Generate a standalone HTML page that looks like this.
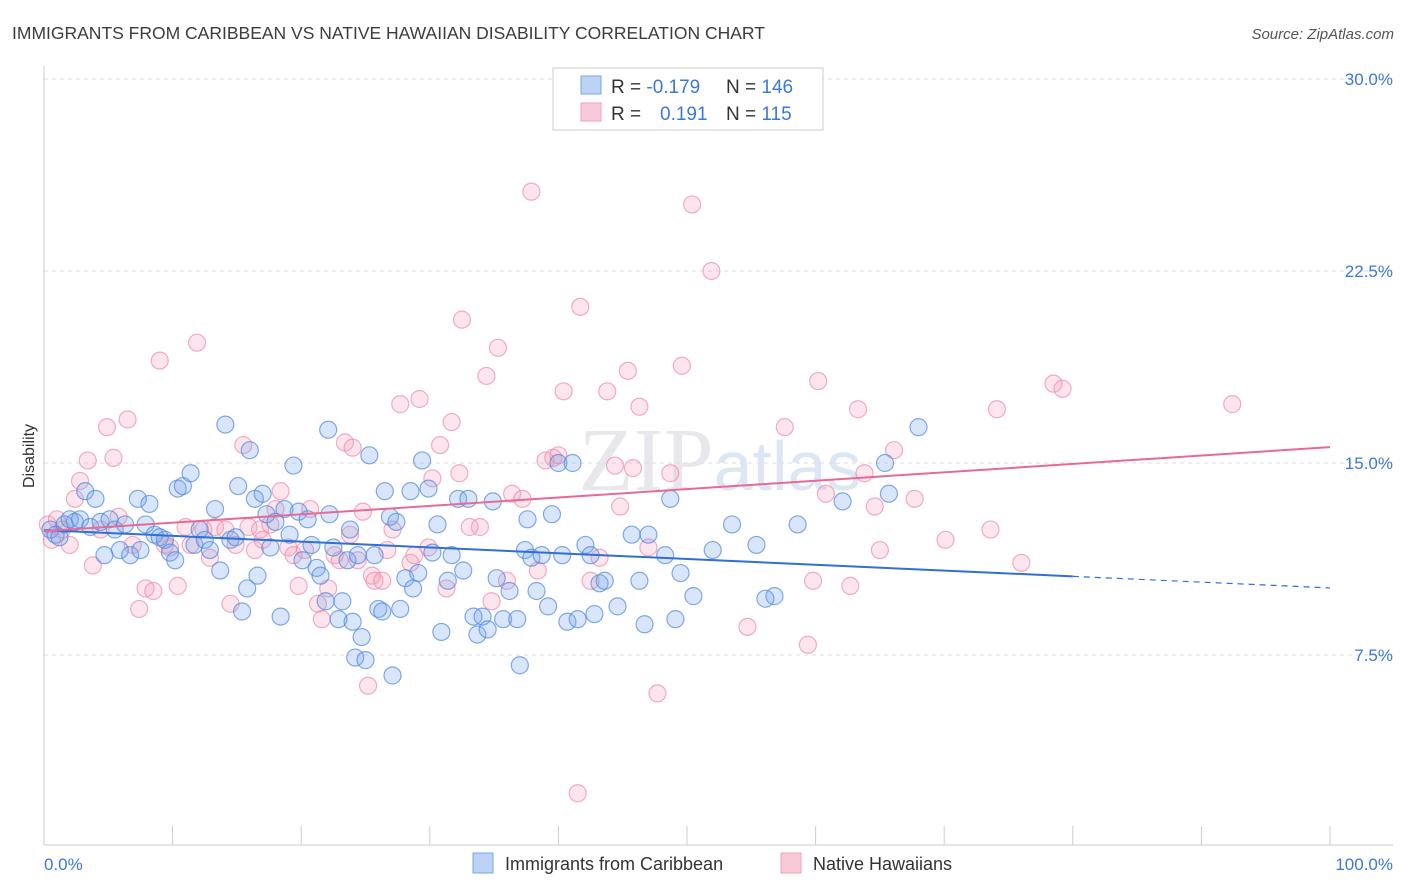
<!DOCTYPE html>
<html><head><meta charset="utf-8">
<style>
body{margin:0;background:#fff;font-family:"Liberation Sans",sans-serif;}
#wrap{position:relative;width:1406px;height:892px;overflow:hidden;}
</style></head>
<body>
<div id="wrap">
<svg id="chart" width="1406" height="892" xmlns="http://www.w3.org/2000/svg">
<text x="12" y="39" font-size="17.5" fill="#3c3c3c">IMMIGRANTS FROM CARIBBEAN VS NATIVE HAWAIIAN DISABILITY CORRELATION CHART</text>
<text x="1394" y="39" font-size="15" fill="#555" font-style="italic" text-anchor="end">Source: ZipAtlas.com</text>
<text x="720" y="490" font-size="90" fill="#e8e8ec" text-anchor="middle" font-family="Liberation Serif,serif">ZIP<tspan fill="#dde6f3" font-family="Liberation Sans,sans-serif" font-size="70">atlas</tspan></text>
<text transform="translate(34,456) rotate(-90)" font-size="16" fill="#333" text-anchor="middle">Disability</text>
<g id="grid"></g><g id="xticks"></g><g id="pts"></g><g id="trends"></g>
<g>
<rect x="553" y="68" width="270" height="62" fill="#fff" stroke="#ccc"/>
<rect x="581" y="76" width="20" height="18" fill="#bcd3f5" stroke="#7aa6e6"/>
<rect x="581" y="103" width="20" height="18" fill="#f9c9d8" stroke="#eea2ba"/>
<text x="611" y="93" font-size="19" fill="#333">R = <tspan fill="#3b78d8">-0.179</tspan>   <tspan x="726">N = </tspan><tspan fill="#3b78d8">146</tspan></text>
<text x="611" y="120" font-size="19" fill="#333">R = <tspan x="660" fill="#3b78d8">0.191</tspan><tspan x="726">N = </tspan><tspan fill="#3b78d8">115</tspan></text>
</g>
<g>
<rect x="473" y="853" width="20" height="20" fill="#bcd3f5" stroke="#7aa6e6"/>
<text x="505" y="870" font-size="18" fill="#333">Immigrants from Caribbean</text>
<rect x="781" y="853" width="20" height="20" fill="#f9c9d8" stroke="#eea2ba"/>
<text x="813" y="870" font-size="18" fill="#333">Native Hawaiians</text>
</g>
<text x="44" y="870" font-size="17" fill="#3b78d8">0.0%</text>
<text x="1393" y="870" font-size="17" fill="#3b78d8" text-anchor="end">100.0%</text>
</svg>
</div>
<script>
const yTicks=[7.5,15,22.5,30];
const yTickLabels=["7.5%","15.0%","22.5%","30.0%"];
const xTickVals=[0,10,20,30,40,50,60,70,80,90,100];
const blueX=[0.5,0.9,1.2,1.6,2.0,2.4,2.8,3.2,3.6,4.0,4.4,4.7,5.1,5.5,5.9,6.3,6.7,7.3,7.5,7.9,8.2,8.6,9.0,9.4,9.8,10.2,10.4,10.8,11.4,11.7,12.1,12.5,12.9,13.3,13.7,14.1,14.5,14.9,15.1,15.4,15.8,16.0,16.4,16.6,17.0,17.3,17.6,18.0,18.4,18.7,19.1,19.4,19.8,20.1,20.5,20.8,21.2,21.5,21.9,22.1,22.2,22.5,22.9,23.2,23.6,23.8,24.0,24.2,24.4,24.7,25.0,25.3,25.7,26.0,26.3,26.5,26.9,27.1,27.4,27.7,28.1,28.5,28.7,29.1,29.4,29.9,30.2,30.6,30.9,31.4,31.7,32.2,32.6,33.0,33.4,33.7,34.1,34.5,34.9,35.2,35.7,36.2,36.8,37.0,37.4,37.6,37.9,38.3,38.7,39.2,39.5,40.0,40.3,40.7,41.1,41.5,42.1,42.5,42.8,43.2,43.6,44.6,45.7,46.3,46.7,47.0,48.3,48.7,49.1,49.5,50.5,52.0,53.5,55.4,56.1,56.8,58.6,62.1,65.4,65.7,68.0];
const blueY=[12.4,12.2,12.1,12.6,12.8,12.7,12.8,13.9,12.5,13.6,12.7,11.4,12.8,12.4,11.6,12.6,11.4,13.6,11.6,12.6,13.4,12.2,12.1,12.0,11.5,11.2,14.0,14.1,14.6,11.8,12.4,12.0,11.6,13.2,10.8,16.5,12.0,12.1,14.1,9.2,10.1,15.5,13.6,10.6,13.8,13.0,11.7,12.7,9.0,13.2,12.2,14.9,13.1,11.2,12.8,11.8,10.9,10.6,9.6,16.3,13.0,11.7,8.9,9.6,11.2,12.4,8.8,7.4,11.4,8.2,7.3,15.3,11.4,9.3,9.2,13.9,12.9,6.7,12.7,9.3,10.5,13.9,10.1,10.7,15.1,14.0,11.5,12.6,8.4,10.4,11.4,13.6,10.8,13.6,9.0,8.3,9.0,8.5,13.5,10.5,8.9,10.0,8.9,7.1,11.6,12.8,11.3,10.0,11.4,9.4,13.0,15.0,11.4,8.8,15.0,8.9,11.8,11.4,9.1,10.3,10.4,9.4,12.2,10.4,8.7,12.2,11.4,13.6,8.9,10.7,9.8,11.6,12.6,11.8,9.7,9.8,12.6,13.5,15.0,13.8,16.4];
const pinkX=[0.3,0.6,1.0,1.4,2.0,2.4,2.8,3.4,3.8,4.4,4.9,5.4,5.8,6.5,6.9,7.4,7.9,8.5,9.0,9.4,9.8,10.4,11.0,11.4,11.9,12.4,12.9,13.3,14.1,14.5,14.9,15.5,15.9,16.4,16.8,17.0,17.6,18.0,18.4,19.0,19.4,19.8,20.3,20.7,21.3,21.6,22.1,22.6,23.0,23.4,23.8,24.0,24.4,24.8,25.2,25.5,25.7,26.3,26.7,27.1,27.7,28.5,28.8,29.2,29.9,30.2,30.8,31.3,31.7,32.3,32.5,33.1,33.9,34.4,34.8,35.3,36.0,36.4,37.2,37.9,38.4,39.0,39.6,40.0,40.4,41.5,41.7,42.5,43.2,43.8,44.4,44.8,45.4,45.8,46.3,47.0,47.7,48.7,49.6,50.4,51.9,54.7,57.6,59.4,59.8,60.2,60.8,62.7,63.3,63.8,64.6,65.0,66.1,67.7,70.1,73.6,74.1,76.0,78.5,79.2,92.4];
const pinkY=[12.6,12.0,12.8,12.4,11.8,13.6,14.3,15.1,11.0,12.4,16.4,15.2,12.9,16.7,11.8,9.3,10.1,10.0,19.0,11.8,11.7,10.2,12.5,11.8,19.7,12.4,11.3,12.5,12.4,9.5,11.8,15.7,12.5,11.6,12.4,12.0,12.6,13.2,13.9,11.7,11.4,10.2,11.6,13.2,9.5,8.9,10.1,11.4,11.2,15.8,12.2,15.6,11.2,13.1,6.3,10.6,10.4,10.4,11.6,12.4,17.3,11.1,11.4,17.5,11.7,14.4,15.7,10.1,16.6,14.6,20.6,12.5,12.5,18.4,9.6,19.5,10.4,13.8,13.6,25.6,10.8,15.1,15.2,15.3,17.8,2.1,21.1,10.4,11.3,17.8,14.9,13.3,18.6,14.8,17.2,11.7,6.0,14.6,18.8,25.1,22.5,8.6,16.4,7.9,10.4,18.2,13.8,10.2,17.1,14.6,13.3,11.6,15.5,13.6,12.0,12.4,17.1,11.1,18.1,17.9,17.3];
const blueTrend=[12.38,10.12];
const pinkTrend=[12.34,15.62];

const X0=44,X1=1330,YB=847,PXPER=25.6;
function sx(v){return X0+(X1-X0)*v/100;}
function sy(v){return YB-v*PXPER;}
const NS="http://www.w3.org/2000/svg";
function mk(tag,attrs,parent){const e=document.createElementNS(NS,tag);for(const k in attrs)e.setAttribute(k,attrs[k]);parent.appendChild(e);return e;}
const grid=document.getElementById('grid');
yTicks.forEach((t,i)=>{
  const l=mk('line',{x1:44,x2:1393,y1:sy(t),y2:sy(t),stroke:'#ddd','stroke-dasharray':'4,4'},grid);
  
  
  const tx=mk('text',{x:1393,y:sy(t)+6,'font-size':17,fill:'#3b78d8','text-anchor':'end'},grid);
  tx.textContent=yTickLabels[i];
  
  
});
const xt=document.getElementById('xticks');
const ax=mk('line',{x1:44,x2:1393,y1:845,y2:845,stroke:'#ccc'},xt);


const yax=mk('line',{x1:44,x2:44,y1:66,y2:845,stroke:'#ccc'},xt);


xTickVals.forEach(v=>{
  const l=mk('line',{x1:sx(v),x2:sx(v),y1:826,y2:845,stroke:'#ccc'},xt);
  
  
});
const pts=document.getElementById('pts');
function drawPts(xs,ys,fill,stroke,name){
  xs.forEach((x,i)=>{
    const c=mk('circle',{cx:sx(x),cy:sy(ys[i]),r:8.5,fill:fill,stroke:stroke,'stroke-width':1.2},pts);
    
    
  });
}
drawPts(pinkX,pinkY,'rgba(243,160,188,0.28)','rgba(236,140,172,0.7)','point-native-hawaiian');
drawPts(blueX,blueY,'rgba(120,165,235,0.28)','rgba(80,135,220,0.7)','point-caribbean');
const tr=document.getElementById('trends');
function lerp(a,b,t){return a+(b-a)*t;}
const b1=mk('line',{x1:sx(0),y1:sy(blueTrend[0]),x2:sx(80),y2:sy(lerp(blueTrend[0],blueTrend[1],0.8)),stroke:'#2f6fd6','stroke-width':2},tr);


const b2=mk('line',{x1:sx(80),y1:sy(lerp(blueTrend[0],blueTrend[1],0.8)),x2:sx(100),y2:sy(blueTrend[1]),stroke:'#2f6fd6','stroke-width':1.2,'stroke-dasharray':'6,5'},tr);


const p1=mk('line',{x1:sx(0),y1:sy(pinkTrend[0]),x2:sx(100),y2:sy(pinkTrend[1]),stroke:'#e86a94','stroke-width':2},tr);


</script>
</body></html>
